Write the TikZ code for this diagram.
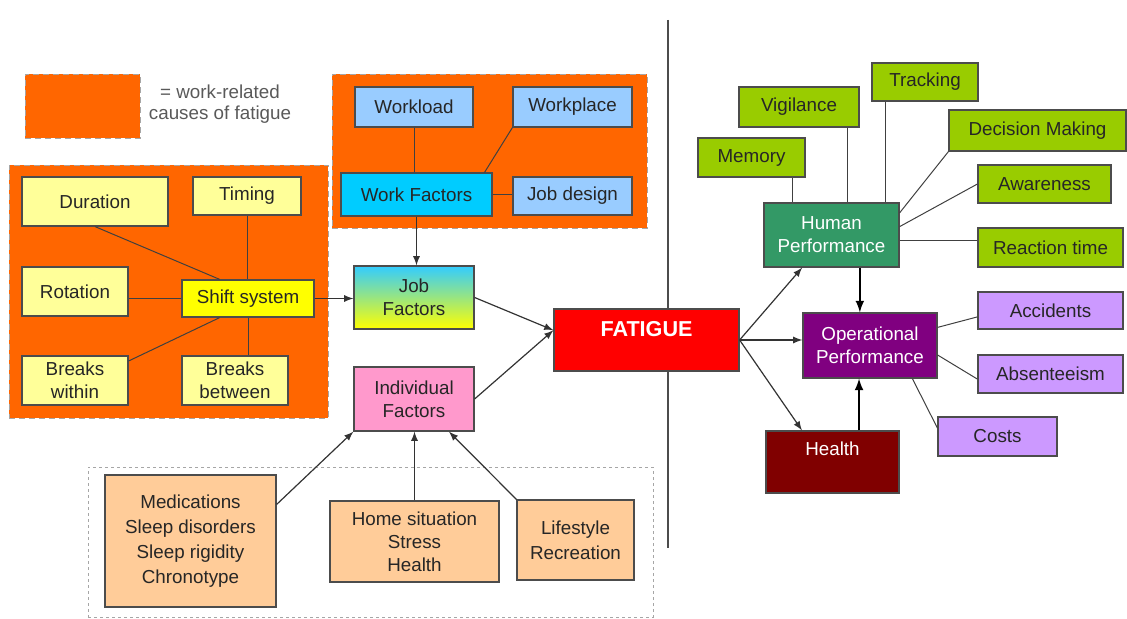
\documentclass[tikz,border=0pt]{standalone}
\usepackage{fontspec}
\setmainfont{Liberation Sans}
\definecolor{workorange}{HTML}{FF6600}
\definecolor{lightyellow}{HTML}{FFFF99}
\definecolor{shiftyellow}{HTML}{FFFF00}
\definecolor{workblue}{HTML}{99CCFF}
\definecolor{workcyan}{HTML}{00CCFF}
\definecolor{jobcyan}{HTML}{33CCFF}
\definecolor{indpink}{HTML}{FF99CC}
\definecolor{fatred}{HTML}{FF0000}
\definecolor{persontan}{HTML}{FFCC99}
\definecolor{skillgreen}{HTML}{99CC00}
\definecolor{hpgreen}{HTML}{339966}
\definecolor{oppurple}{HTML}{800080}
\definecolor{outlilac}{HTML}{CC99FF}
\definecolor{healthred}{HTML}{800000}
\begin{document}
\begin{tikzpicture}[
    x=0.5pt, y=-0.5pt,
    >=latex,
    every node/.style={font=\fontsize{9.4}{11.5}\selectfont, text=black!85},
    area/.style={draw=gray!70, densely dashed, fill=workorange, inner sep=0pt},
    box/.style={draw=black!70, line width=0.6pt, inner sep=1pt, align=center},
    shiftbox/.style={box, fill=lightyellow},
    workbox/.style={box, fill=workblue},
    personbox/.style={box, fill=persontan},
    skillbox/.style={box, fill=skillgreen},
    outbox/.style={box, fill=outlilac},
    perfbox/.style={box, text=white},
    link/.style={draw=black!75, line width=0.5pt},
    arrow/.style={->, draw=black!80, line width=0.6pt},
    thickarrow/.style={->, draw=black, line width=1pt}
]
\useasboundingbox (0,0) rectangle (1127,619);

% separator (drawn behind)
\coordinate (septop) at (668,20);
\coordinate (sepbot) at (668,548);
\draw[black!70, line width=0.8pt] (septop) -- (sepbot);

% work-related areas
\node[area, minimum width=57.5pt, minimum height=32pt] (legend) at (82.5,106) {};
\node[text=black!65, align=center, font=\fontsize{9.4}{10.5}\selectfont] (legendtext) at (220,104.5) {= work-related\\causes of fatigue};
\node[area, minimum width=159.5pt, minimum height=126.5pt] (shiftarea) at (168.5,291.5) {};
\node[area, minimum width=157.5pt, minimum height=77pt] (workarea) at (489.5,151) {};

% shift system
\node[shiftbox, minimum width=73pt, minimum height=24.5pt] (duration) at (95,201.5) {Duration};
\node[shiftbox, minimum width=54pt, minimum height=19pt] (timing) at (247,196) {Timing};
\node[shiftbox, minimum width=53pt, minimum height=24.5pt] (rotation) at (75,291.5) {Rotation};
\node[box, fill=shiftyellow, minimum width=66pt, minimum height=18.5pt] (shift) at (248,298.5) {Shift system};
\node[shiftbox, minimum width=53pt, minimum height=24.5pt] (bwithin) at (75,380.5) {Breaks\\within};
\node[shiftbox, minimum width=53pt, minimum height=24.5pt] (bbetween) at (235,380.5) {Breaks\\between};

% work factors
\node[workbox, minimum width=59pt, minimum height=20pt] (workload) at (414,107) {Workload};
\node[workbox, minimum width=59.5pt, minimum height=20pt] (workplace) at (572.5,107) {Workplace};
\node[box, fill=workcyan, minimum width=75.5pt, minimum height=21.5pt] (workfac) at (416.5,194.5) {Work Factors};
\node[workbox, minimum width=59.5pt, minimum height=19pt] (jobdesign) at (572.5,196) {Job design};

% factors and fatigue
\node[box, top color=jobcyan, bottom color=shiftyellow, minimum width=60pt, minimum height=31.5pt] (jobfac) at (414,297.5) {Job\\Factors};
\node[box, fill=indpink, minimum width=60pt, minimum height=32pt] (indiv) at (414,399) {Individual\\Factors};
\node[box, fill=fatred, text=white, font=\fontsize{10.8}{13}\selectfont\bfseries, inner sep=0pt, minimum width=92.5pt, text height=14pt, text depth=17pt] (fatigue) at (646.5,340) {FATIGUE};

% individual causes
\node[draw=gray!70, dash pattern=on 1.5pt off 1.5pt, inner sep=0pt, minimum width=282.5pt, minimum height=75pt] (personal) at (370.5,542) {};
\node[personbox, font=\fontsize{9.4}{12.5}\selectfont, minimum width=85.5pt, minimum height=66pt] (meds) at (190.5,541) {Medications\\Sleep disorders\\Sleep rigidity\\Chronotype};
\node[personbox, minimum width=84.5pt, minimum height=40.5pt] (home) at (414.5,541.5) {Home situation\\Stress\\Health};
\node[personbox, font=\fontsize{9.4}{12.5}\selectfont, minimum width=58.5pt, minimum height=40pt] (life) at (575.5,540) {Lifestyle\\Recreation};

% consequences
\node[perfbox, fill=hpgreen, minimum width=67.5pt, minimum height=32pt] (hp) at (831.5,235) {Human\\Performance};
\node[perfbox, fill=oppurple, minimum width=67pt, minimum height=32.5pt] (op) at (870,345.5) {Operational\\Performance};
\node[perfbox, fill=healthred, inner sep=0pt, minimum width=66.5pt, text height=12pt, text depth=19pt] (health) at (832.5,462) {Health};

\node[skillbox, minimum width=53pt, minimum height=19pt] (tracking) at (925,82) {Tracking};
\node[skillbox, minimum width=60pt, minimum height=20pt] (vigil) at (799,107) {Vigilance};
\node[skillbox, minimum width=53.5pt, minimum height=19.5pt] (memory) at (751.5,157.5) {Memory};
\node[skillbox, minimum width=88.5pt, minimum height=20.5pt] (decision) at (1037.5,130.5) {Decision Making};
\node[skillbox, minimum width=66.5pt, minimum height=19pt] (aware) at (1044.5,184) {Awareness};
\node[skillbox, minimum width=72.5pt, minimum height=19.5pt] (reaction) at (1050.5,247.5) {Reaction time};

\node[outbox, minimum width=72.5pt, minimum height=18.5pt] (acc) at (1050.5,310.5) {Accidents};
\node[outbox, minimum width=72.5pt, minimum height=19pt] (absent) at (1050.5,374) {Absenteeism};
\node[outbox, minimum width=59.5pt, minimum height=19.5pt] (costs) at (997.5,436.5) {Costs};

% shift system links
\draw[link] (duration.south) -- (shift.146);
\draw[link] (timing.south) -- (timing.south |- shift.north);
\draw[link] (shift.west) -- (shift.west -| rotation.east);
\draw[link] (bwithin.20) -- (shift.214);
\draw[link] (shift.south) -- (shift.south |- bbetween.north);
\draw[arrow] (shift.east) -- (shift.east -| jobfac.west);

% work factor links
\draw[link] (workload.south) -- (workload.south |- workfac.north);
\draw[link] (workplace.south west) -- (workfac.18);
\draw[link] (workfac.east) -- (workfac.east -| jobdesign.west);
\draw[arrow] (workfac.south) -- (workfac.south |- jobfac.north);

% into fatigue
\draw[arrow] (jobfac.east) -- (fatigue.174);
\draw[arrow] (indiv.east) -- (fatigue.174);
\draw[arrow] (meds.23) -- (indiv.south west);
\draw[arrow] (home.north) -- (home.north |- indiv.south);
\draw[arrow] (life.north west) -- (indiv.-43);

% out of fatigue
\draw[arrow] (fatigue.east) -- (hp.228);
\draw[arrow] (fatigue.east) -- (fatigue.east -| op.west);
\draw[arrow] (fatigue.east) -- (health.134);
\draw[thickarrow] (hp.-49) -- (hp.-49 |- op.north);
\draw[thickarrow] (health.50) -- (health.50 |- op.south);

% human performance links
\draw[link] (hp.140) -- (hp.140 |- memory.south);
\draw[link] (hp.64) -- (hp.64 |- vigil.south);
\draw[link] (hp.31) -- (hp.31 |- tracking.south);
\draw[link] (hp.18) -- (decision.south west);
\draw[link] (hp.7) -- (aware.west);
\draw[link] (hp.-5) -- (hp.-5 -| reaction.west);

% operational performance links
\draw[link] (op.15) -- (acc.185);
\draw[link] (op.-8) -- (absent.184);
\draw[link] (op.-38) -- (costs.172);

\end{tikzpicture}
\end{document}
